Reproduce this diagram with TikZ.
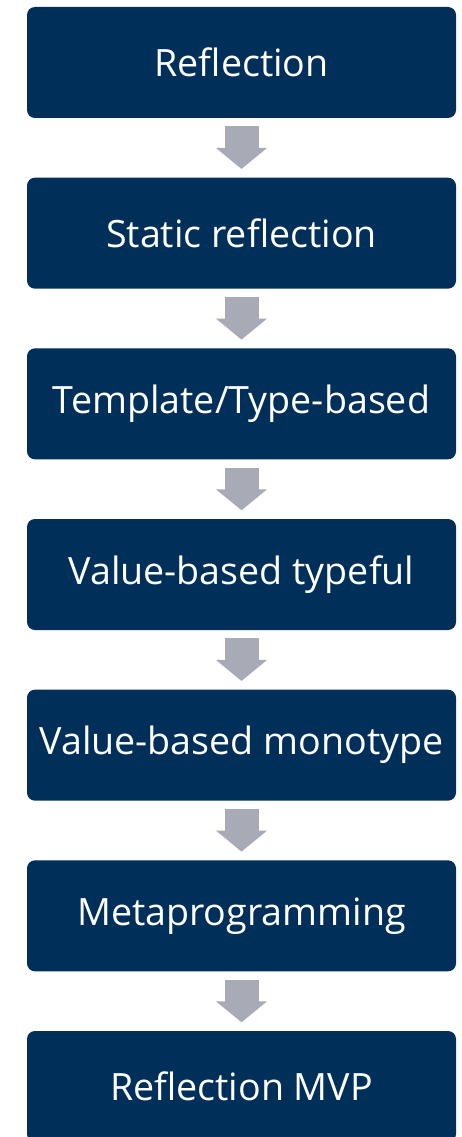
\documentclass[tikz,border=0pt]{standalone}
\usepackage{fontspec}
\setmainfont{Open Sans}
\usetikzlibrary{arrows.meta}
\definecolor{boxblue}{RGB}{0,48,90}
\definecolor{arrowgray}{RGB}{168,171,181}
\tikzset{
  stepbox/.style={draw=none, fill=boxblue, rounded corners=8pt, minimum width=429pt, minimum height=111pt, inner sep=0pt, text=white, font=\fontsize{37.6}{44}\selectfont},
  bigarrow/.style={draw=arrowgray, line width=34pt, -{Triangle[width=50pt,length=21pt]}}
}
\begin{document}
\begin{tikzpicture}[x=1pt,y=-1pt]
\useasboundingbox (0,0) rectangle (462,1137);
\begin{scope}
\clip (0,0) rectangle (462,1137);
\node[stepbox] (b1) at (241.5,62.5) {Reflection};
\node[stepbox] (b2) at (241.5,233.17) {Static reflection};
\node[stepbox] (b3) at (241.5,403.83) {Template/Type-based};
\node[stepbox] (b4) at (241.5,574.5) {Value-based typeful};
\node[stepbox] (b5) at (241.5,745.17) {Value-based monotype};
\node[stepbox] (b6) at (241.5,915.83) {Metaprogramming};
\node[stepbox] (b7) at (241.5,1086.5) {Reflection MVP};
\foreach \a/\b in {b1/b2,b2/b3,b3/b4,b4/b5,b5/b6,b6/b7}{
  \draw[bigarrow] ([yshift=-8pt]\a.south) -- ([yshift=8.5pt]\b.north);
}
\end{scope}
\end{tikzpicture}
\end{document}
